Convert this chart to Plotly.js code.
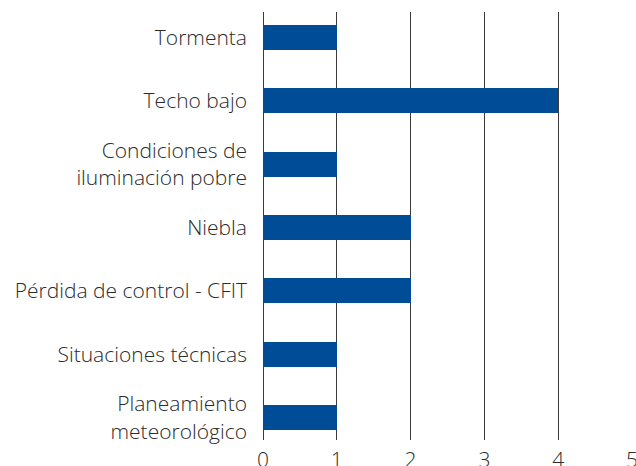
<!DOCTYPE html>
<html>
<head>
<meta charset="utf-8">
<script src="https://cdn.plot.ly/plotly-3.0.1.min.js"></script>
<style>html,body{margin:0;padding:0;background:#fff;}#chart{width:636px;height:466px;}</style>
</head>
<body>
<div id="chart"></div>
<script>
const categories = [
  "Tormenta",
  "Techo bajo",
  "Condiciones de<br>iluminación pobre",
  "Niebla",
  "Pérdida de control - CFIT",
  "Situaciones técnicas",
  "Planeamiento<br>meteorológico"
];
const values = [1, 4, 1, 2, 2, 1, 1];
const xTicks = [0, 1, 2, 3, 4, 5];

const trace = {
  type: 'bar',
  orientation: 'h',
  y: categories,
  x: values,
  width: 0.395,
  marker: {color: '#004c97', line: {width: 0}},
  hoverinfo: 'skip'
};

const FONT = '"Open Sans", "Noto Sans", sans-serif';

const layout = {
  width: 636,
  height: 466,
  margin: {l: 263, r: 4, t: 12, b: 26},
  paper_bgcolor: '#ffffff',
  plot_bgcolor: '#ffffff',
  showlegend: false,
  bargap: 0,
  font: {family: FONT, color: '#2b2b2b', size: 21, weight: 300},
  xaxis: {
    range: [0, 5],
    tickvals: xTicks,
    ticktext: xTicks.map(String),
    showgrid: true,
    gridcolor: '#3a3a3a',
    gridwidth: 1,
    zeroline: true,
    zerolinecolor: '#3a3a3a',
    zerolinewidth: 1,
    showline: false,
    ticks: '',
    ticklabelstandoff: 5,
    ticklabeloverflow: 'allow',
    tickfont: {family: FONT, size: 21, color: '#2b2b2b', weight: 300},
    fixedrange: true
  },
  yaxis: {
    type: 'category',
    categoryorder: 'array',
    categoryarray: categories,
    range: [6.355, -0.403],
    showgrid: false,
    zeroline: false,
    showline: false,
    ticks: '',
    ticklabelstandoff: 15,
    tickfont: {family: FONT, size: 21, color: '#2b2b2b', weight: 300},
    fixedrange: true
  }
};

Plotly.newPlot('chart', [trace], layout, {staticPlot: true, displayModeBar: false});
</script>
</body>
</html>
